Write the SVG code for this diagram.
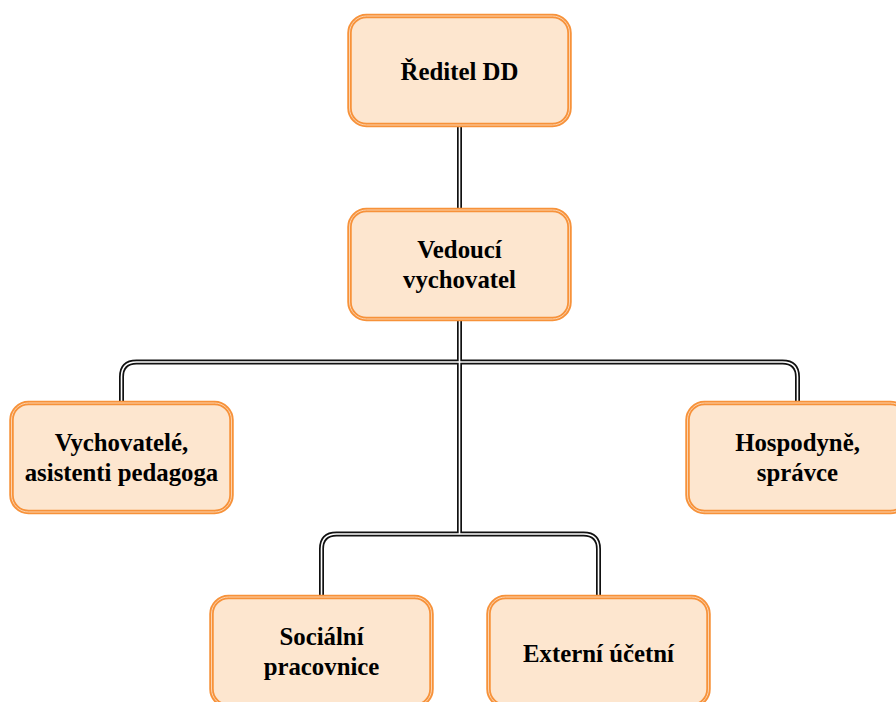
<svg xmlns="http://www.w3.org/2000/svg" width="896" height="702" viewBox="0 0 896 702">
<style>
.box{fill:#FDE6CF;stroke:#F7923A;stroke-width:4.5}
.inner{fill:none;stroke:#FCD3AE;stroke-width:1}
.t{font-family:"Liberation Serif","Times New Roman",serif;font-weight:bold;font-size:24.8px;fill:#000;text-anchor:middle}
.co{fill:none;stroke:#111;stroke-width:5}
.ci{fill:none;stroke:#fff;stroke-width:1.6}
</style>
<rect width="896" height="702" fill="#fff"/>
<g id="connectors">
<path class="co" d="M459.5 126 V209 M459.5 320 V534"/>
<path class="co" d="M121.5 402 V377 Q121.5 362 136.5 362 H782.5 Q797.5 362 797.5 377 V402"/>
<path class="co" d="M321.5 596 V549 Q321.5 534 336.5 534 H583.5 Q598.5 534 598.5 549 V596"/>
<path class="ci" d="M459.5 126 V209 M459.5 320 V534"/>
<path class="ci" d="M121.5 402 V377 Q121.5 362 136.5 362 H782.5 Q797.5 362 797.5 377 V402"/>
<path class="ci" d="M321.5 596 V549 Q321.5 534 336.5 534 H583.5 Q598.5 534 598.5 549 V596"/>
</g>
<g id="n1">
<rect class="box" x="349.5" y="16" width="220" height="109" rx="17"/>
<rect class="inner" x="349.5" y="16" width="220" height="109" rx="17"/>
<text class="t" x="459.5" y="80">Ředitel DD</text>
</g>
<g id="n2">
<rect class="box" x="349.5" y="210" width="220" height="109" rx="17"/>
<rect class="inner" x="349.5" y="210" width="220" height="109" rx="17"/>
<text class="t" x="459.5" y="258">Vedoucí</text>
<text class="t" x="459.5" y="288">vychovatel</text>
</g>
<g id="n3">
<rect class="box" x="11.5" y="403" width="220" height="109" rx="17"/>
<rect class="inner" x="11.5" y="403" width="220" height="109" rx="17"/>
<text class="t" x="121.5" y="451">Vychovatelé,</text>
<text class="t" x="121.5" y="481">asistenti pedagoga</text>
</g>
<g id="n4">
<rect class="box" x="687.5" y="403" width="220" height="109" rx="17"/>
<rect class="inner" x="687.5" y="403" width="220" height="109" rx="17"/>
<text class="t" x="797.5" y="451">Hospodyně,</text>
<text class="t" x="797.5" y="481">správce</text>
</g>
<g id="n5">
<rect class="box" x="211.5" y="597" width="220" height="109" rx="17"/>
<rect class="inner" x="211.5" y="597" width="220" height="109" rx="17"/>
<text class="t" x="321.5" y="645">Sociální</text>
<text class="t" x="321.5" y="675">pracovnice</text>
</g>
<g id="n6">
<rect class="box" x="488.5" y="597" width="220" height="109" rx="17"/>
<rect class="inner" x="488.5" y="597" width="220" height="109" rx="17"/>
<text class="t" x="598.5" y="662">Externí účetní</text>
</g>
</svg>
